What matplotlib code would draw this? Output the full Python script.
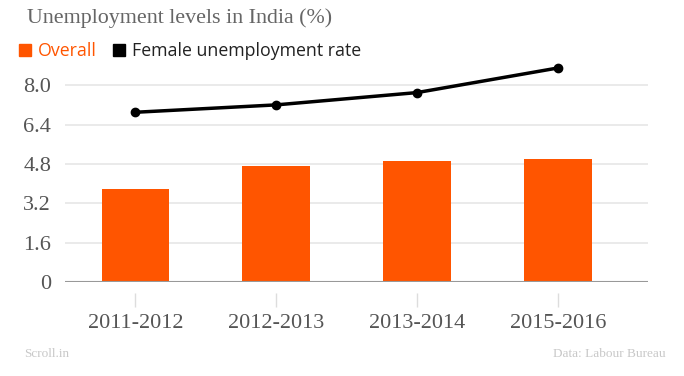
import matplotlib.pyplot as plt
import numpy as np
from matplotlib.lines import Line2D

years = ["2011-2012", "2012-2013", "2013-2014", "2015-2016"]
overall = [3.8, 4.7, 4.9, 5.0]
female = [6.9, 7.2, 7.7, 8.7]
yticks = [0, 1.6, 3.2, 4.8, 6.4, 8.0]
ytick_labels = ["0", "1.6", "3.2", "4.8", "6.4", "8.0"]

orange = "#FF5500"
serif = "Liberation Serif"
sans = "Open Sans"

fig = plt.figure(figsize=(6.84, 3.76), dpi=100)
ax = fig.add_axes([65 / 684, 1 - 282 / 376, (648 - 65) / 684, (282 - 60.6) / 376])

# move the x tick marks a bit below the zero line (do this first: it resets ticks)
ax.spines["bottom"].set_position(("outward", 8))
ax.spines["bottom"].set_visible(False)
for s in ["top", "right", "left"]:
    ax.spines[s].set_visible(False)

x = np.arange(len(years))
ax.bar(x, overall, width=0.48, color=orange, zorder=2)
ax.plot(x, female, color="black", lw=2.5, marker="o", ms=6, zorder=3, clip_on=False)

ax.set_xlim(-0.5, 3.64)
ax.set_ylim(0, 9.0)
ax.set_yticks(yticks)
ax.set_yticklabels(ytick_labels, family=serif, fontsize=16, color="#555555")
ax.set_xticks(x)
ax.set_xticklabels(years, family=serif, fontsize=16, color="#555555")

ax.grid(axis="y", color="#e6e6e6", lw=1.2, zorder=0)
ax.axhline(0, color="#999999", lw=1.5, zorder=3)
ax.tick_params(axis="y", length=0, pad=10)
ax.tick_params(axis="x", length=10, color="#dddddd", width=1, pad=5)

fig.text(27 / 684, 1 - 18 / 376, "Unemployment levels in India (%)", family=serif,
         fontsize=15.8, color="#666666", va="center")

handles = [Line2D([], [], ls="none", marker="s", ms=8.5, color=orange),
           Line2D([], [], ls="none", marker="s", ms=8.5, color="black")]
fig.legend(handles, ["Overall", "Female unemployment rate"], loc="center left",
           bbox_to_anchor=(9 / 684, 1 - 51 / 376), ncol=2, frameon=False,
           prop={"family": sans, "size": 12.8}, handlelength=0.8,
           handletextpad=0.3, columnspacing=0.9, borderpad=0,
           labelcolor=[orange, "#222222"])

fig.text(24 / 684, 1 - 354 / 376, "Scroll.in", family=serif, fontsize=9.5,
         color="#c8c8c8", va="center")
fig.text(666 / 684, 1 - 354 / 376, "Data: Labour Bureau", family=serif, fontsize=9.5,
         color="#c8c8c8", va="center", ha="right")

fig.savefig("out.png", dpi=100)
